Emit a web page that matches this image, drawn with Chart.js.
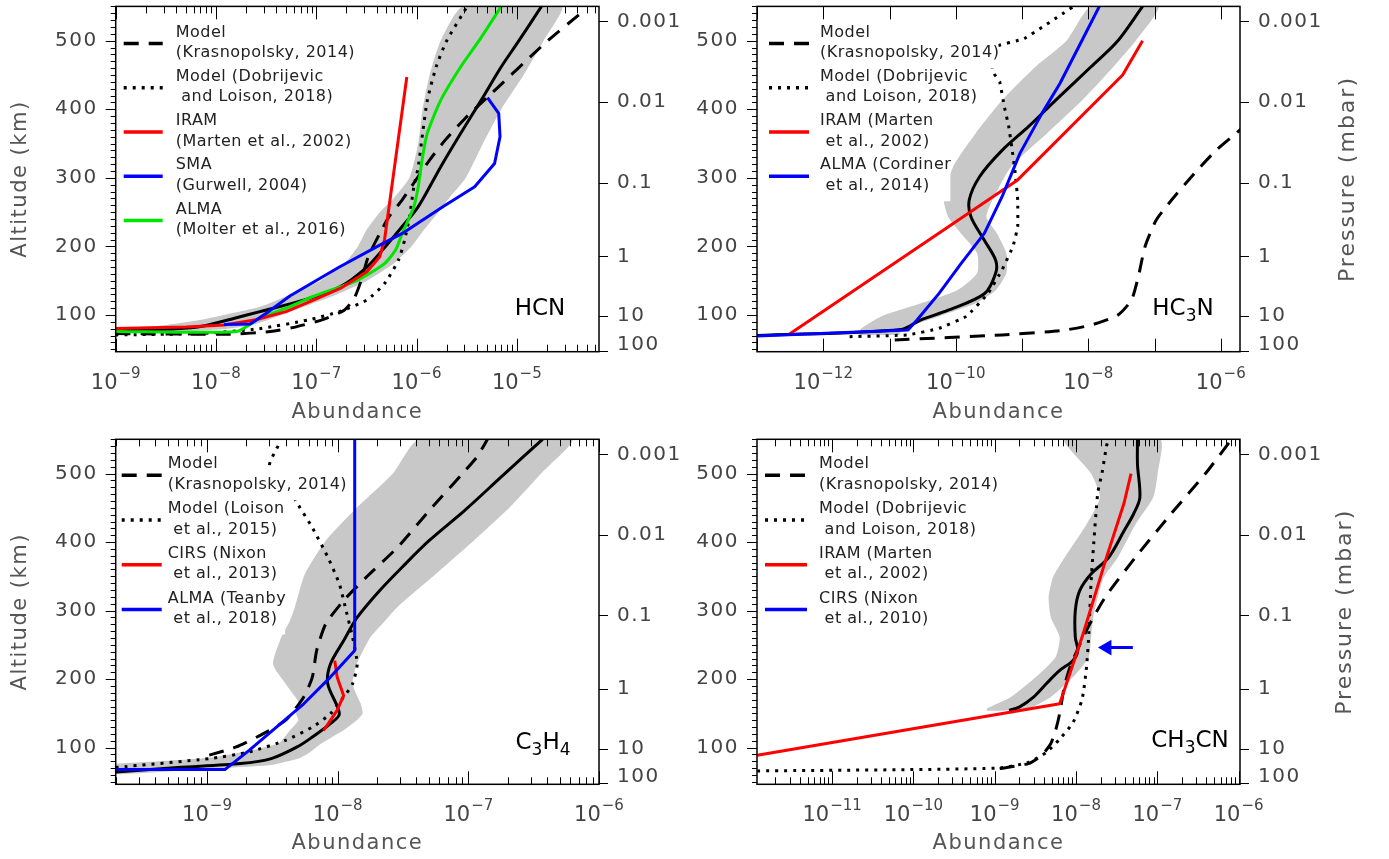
<!DOCTYPE html>
<html>
<head>
<meta charset="utf-8">
<script src="https://cdn.jsdelivr.net/npm/chart.js@4.4.1/dist/chart.umd.min.js"></script>
<style>
body { margin: 0; background: #fff; }
#wrap { position: relative; width: 1389px; height: 859px; }
canvas { position: absolute; }
</style>
</head>
<body>
<div id="wrap">
  <canvas id="hcn" width="694" height="430" style="left:0;top:0"></canvas>
  <canvas id="hc3n" width="695" height="430" style="left:694px;top:0"></canvas>
  <canvas id="c3h4" width="694" height="429" style="left:0;top:430px"></canvas>
  <canvas id="ch3cn" width="695" height="429" style="left:694px;top:430px"></canvas>
</div>
<script>
// shared axis values
const altTicks = [100, 200, 300, 400, 500];
const presTickAlt = [528, 410.5, 293, 185.5, 98.5, 48];
const presLabelAlt = [528, 410.5, 293, 185.5, 98.5, 57];
const presLabels = ['0.001', '0.01', '0.1', '1', '10', '100'];

// ---- HCN (altitude km / abundance) ----
const hcnBandAlt = [76, 80, 85, 92, 100, 112, 130, 150, 175, 200, 225, 250, 270, 300, 350, 400, 450, 500, 550];
const hcnBandLo = [5e-10, 1.5e-9, 3e-9, 6.5e-9, 1.2e-8, 2.75e-8, 5.5e-8, 1.1e-7, 1.9e-7, 2.6e-7, 3.2e-7, 4.3e-7, 5.9e-7, 8.5e-7, 1.04e-6, 1.15e-6, 1.35e-6, 1.74e-6, 2.9e-6];
const hcnBandHi = [5e-9, 1.3e-8, 2.2e-8, 3.2e-8, 4.5e-8, 7.5e-8, 1.6e-7, 3.2e-7, 5.9e-7, 8.9e-7, 1.2e-6, 1.65e-6, 2.1e-6, 3.1e-6, 4.6e-6, 7e-6, 1.17e-5, 1.85e-5, 2.8e-5];
const hcnRetAlt = [78, 80, 84, 95, 105, 122, 141, 170, 200, 229, 258, 316, 365, 413, 462, 500, 550];
const hcnRetVal = [1e-9, 4e-9, 7.5e-9, 1.5e-8, 2.75e-8, 7.6e-8, 1.72e-7, 3.2e-7, 4.9e-7, 7.2e-7, 1.04e-6, 1.74e-6, 2.76e-6, 4.4e-6, 7e-6, 1.05e-5, 1.76e-5];
const hcnKrasAlt = [73, 72, 76, 82, 93, 107, 125, 150, 185, 219, 243, 268, 302, 326, 355, 387, 421, 496, 542];
const hcnKrasVal = [1e-9, 1.4e-8, 3.5e-8, 6e-8, 1.14e-7, 1.9e-7, 2.4e-7, 2.8e-7, 3.3e-7, 4.3e-7, 5.3e-7, 7.2e-7, 1.04e-6, 1.35e-6, 1.93e-6, 3.06e-6, 5.4e-6, 1.9e-5, 4.5e-5];
const hcnDobAlt = [71, 73, 80, 93, 105, 122, 146, 180, 209, 243, 287, 316, 365, 413, 462, 500, 550];
const hcnDobVal = [1e-9, 7e-9, 2.7e-8, 8.4e-8, 1.7e-7, 3.2e-7, 4.8e-7, 6.6e-7, 7.6e-7, 8.5e-7, 9.4e-7, 1.04e-6, 1.15e-6, 1.28e-6, 1.57e-6, 2e-6, 3.2e-6];
const hcnIramAlt = [80.5, 82.5, 85.5, 93, 105, 122, 140, 163, 185, 210, 447];
const hcnIramVal = [1e-9, 5e-9, 1.2e-8, 2.5e-8, 5e-8, 9.5e-8, 1.8e-7, 3.2e-7, 4.3e-7, 4.8e-7, 8e-7];
const hcnSmaAlt = [86, 87, 103, 128, 170, 202, 219, 258, 287, 321, 360, 394, 417];
const hcnSmaVal = [1.2e-8, 2.2e-8, 3.2e-8, 5.5e-8, 1.7e-7, 4.3e-7, 7.2e-7, 1.83e-6, 3.8e-6, 6e-6, 6.8e-6, 6.6e-6, 5.1e-6];
const hcnAlmaAlt = [76, 76, 95, 110, 127, 151, 175, 195, 219, 258, 287, 331, 365, 413, 462, 500, 550];
const hcnAlmaVal = [1e-9, 1.6e-8, 2.7e-8, 5e-8, 9.3e-8, 2.6e-7, 4.8e-7, 6.2e-7, 7.2e-7, 9.4e-7, 1.04e-6, 1.15e-6, 1.28e-6, 1.74e-6, 2.76e-6, 4.2e-6, 7e-6];
const hcnLegend = [['Model', '(Krasnopolsky, 2014)'], ['Model (Dobrijevic', ' and Loison, 2018)'], ['IRAM', '(Marten et al., 2002)'], ['SMA', '(Gurwell, 2004)'], ['ALMA', '(Molter et al., 2016)']];

// ---- HC3N ----
const hc3nBandAlt = [71, 80, 98, 117, 136, 161, 190, 219, 243, 268, 316, 365, 413, 462, 500, 550];
const hc3nBandLo = [3.5e-12, 3.7e-12, 7.5e-12, 3e-11, 1.05e-10, 2.1e-10, 2.1e-10, 1.2e-10, 7.7e-11, 6.6e-11, 9.1e-11, 2e-10, 5e-10, 1.6e-9, 4.7e-9, 1.1e-8];
const hc3nBandHi = [1.4e-11, 1.6e-11, 5.6e-11, 2e-10, 4e-10, 5.8e-10, 5.8e-10, 4.2e-10, 2.9e-10, 3.6e-10, 6.8e-10, 2.4e-9, 8.1e-9, 2.4e-8, 5.2e-8, 1.14e-7];
const hc3nRetAlt = [70, 79, 93, 107, 131, 161, 180, 209, 243, 268, 302, 340, 375, 413, 462, 500, 550];
const hc3nRetVal = [1e-13, 1.5e-11, 3e-11, 7.7e-11, 2.7e-10, 4e-10, 4e-10, 2.7e-10, 1.7e-10, 1.6e-10, 2.3e-10, 5e-10, 1.26e-9, 3.2e-9, 1.1e-8, 2.8e-8, 6.6e-8];
const hc3nKrasAlt = [63.6, 71, 77, 85.4, 100, 122, 156, 200, 238.5, 268, 306.6, 340.6, 365, 380];
const hc3nKrasVal = [1.2e-11, 5e-10, 3.75e-9, 1.1e-8, 2.8e-8, 4.5e-8, 5.7e-8, 7.2e-8, 1.06e-7, 1.82e-7, 4e-7, 8.6e-7, 1.7e-6, 2.6e-6];
const hc3nDobAlt = [68.4, 71, 80.5, 98, 132, 166, 200, 229, 268, 307, 345, 375, 404, 440, 455, 490, 503, 550];
const hc3nDobVal = [2.5e-12, 1.9e-11, 5.6e-11, 1.44e-10, 3.1e-10, 5e-10, 7.3e-10, 8.6e-10, 8.6e-10, 7.9e-10, 7e-10, 6.3e-10, 5.4e-10, 4.6e-10, 3.6e-10, 3.6e-10, 1.08e-9, 6e-9];
const hc3nIramAlt = [72.3, 297, 450, 500];
const hc3nIramVal = [3.1e-13, 8.6e-10, 3.3e-8, 6.6e-8];
const hc3nAlmaAlt = [69.4, 78, 92.7, 131.6, 175, 219, 272.5, 335.7, 394, 438, 501, 550];
const hc3nAlmaVal = [1e-13, 1.9e-11, 2.6e-11, 5.6e-11, 1.2e-10, 2.7e-10, 5e-10, 9.3e-10, 2e-9, 3.75e-9, 8.1e-9, 1.47e-8];
const hc3nLegend = [['Model', '(Krasnopolsky, 2014)'], ['Model (Dobrijevic', ' and Loison, 2018)'], ['IRAM (Marten', ' et al., 2002)'], ['ALMA (Cordiner', ' et al., 2014)']];

// ---- C3H4 ----
const c3h4BandAlt = [61, 72, 75, 84, 91, 106, 125, 140, 150, 164, 193, 222, 261, 285, 305, 353, 402, 450, 500, 550];
const c3h4BandLo = [1e-10, 1e-10, 1.5e-10, 9e-10, 1.6e-9, 3.5e-9, 4.3e-9, 5e-9, 4.8e-9, 5.1e-9, 4e-9, 3.2e-9, 3.7e-9, 4.3e-9, 4.7e-9, 5.6e-9, 8.1e-9, 1.4e-8, 2.65e-8, 4.2e-8];
const c3h4BandHi = [2.2e-10, 1.95e-9, 3.2e-9, 5e-9, 5.9e-9, 7.5e-9, 1.1e-8, 1.4e-8, 1.55e-8, 1.5e-8, 1.3e-8, 1.4e-8, 1.78e-8, 2.3e-8, 2.86e-8, 5.6e-8, 1.1e-7, 2.06e-7, 3.6e-7, 6.2e-7];
const c3h4RetAlt = [64.6, 71, 76.7, 84, 102, 115.5, 135, 149.5, 193, 222, 256, 290, 329, 363, 402, 445.6, 494, 550];
const c3h4RetVal = [2e-10, 6e-10, 1.8e-9, 3.1e-9, 5e-9, 6.4e-9, 8.8e-9, 1.03e-8, 8.4e-9, 8.8e-9, 1.11e-8, 1.41e-8, 2.09e-8, 3.1e-8, 5e-8, 9.3e-8, 1.76e-7, 3.7e-7];
const c3h4KrasAlt = [89, 101, 120.4, 140, 174, 203, 241.7, 280.6, 314.6, 348.5, 392, 445.6, 523, 550];
const c3h4KrasVal = [1.04e-9, 1.67e-9, 2.7e-9, 4e-9, 5.5e-9, 6.4e-9, 6.9e-9, 8.1e-9, 1.11e-8, 1.65e-8, 2.86e-8, 5e-8, 1.15e-7, 1.4e-7];
const c3h4LoisAlt = [71, 84, 93.7, 110.7, 130, 149.5, 174, 193, 222, 261, 300, 339, 378, 421, 454, 485, 511, 545];
const c3h4LoisVal = [2e-10, 1.04e-9, 2.1e-9, 4e-9, 6.4e-9, 8.8e-9, 1.11e-8, 1.3e-8, 1.41e-8, 1.3e-8, 1.16e-8, 1.03e-8, 8.4e-9, 6.4e-9, 5e-9, 4e-9, 3e-9, 3.6e-9];
const c3h4CirsAlt = [227, 203, 176, 154.4, 125];
const c3h4CirsVal = [9.5e-9, 9.9e-9, 1.11e-8, 9.9e-9, 7.8e-9];
const c3h4AlmaAlt = [68, 68, 96, 130, 164, 203, 241.7, 550];
const c3h4AlmaVal = [2e-10, 1.37e-9, 2.1e-9, 3.4e-9, 5.5e-9, 8.8e-9, 1.35e-8, 1.35e-8];
const c3h4Legend = [['Model', '(Krasnopolsky, 2014)'], ['Model (Loison', ' et al., 2015)'], ['CIRS (Nixon', ' et al., 2013)'], ['ALMA (Teanby', ' et al., 2018)']];

// ---- CH3CN ----
const ch3cnBandAlt = [154, 157, 174, 203, 232, 261, 290, 319.4, 348.5, 377, 426, 465, 500, 550];
const ch3cnBandLo = [8e-10, 8e-10, 1.58e-9, 3.2e-9, 5.6e-9, 6.3e-9, 4.9e-9, 4.6e-9, 5.2e-9, 7.2e-9, 1.35e-8, 1.96e-8, 1.53e-8, 7.2e-9];
const ch3cnBandHi = [1.3e-9, 2.6e-9, 4.9e-9, 9.2e-9, 1.43e-8, 1.53e-8, 1.63e-8, 1.85e-8, 2.2e-8, 3.25e-8, 5.4e-8, 8.9e-8, 1.01e-7, 1.08e-7];
const ch3cnRetAlt = [154.4, 159.2, 173.8, 193.2, 212.6, 227.2, 241.7, 261, 300, 329.1, 353.4, 377.7, 416.5, 441, 465, 513.6, 550];
const ch3cnRetVal = [1.5e-9, 2e-9, 3e-9, 4.3e-9, 6.3e-9, 9.2e-9, 1.05e-8, 9.8e-9, 9.8e-9, 1.11e-8, 1.53e-8, 2.53e-8, 3.9e-8, 5.1e-8, 6.1e-8, 5.7e-8, 5.7e-8];
const ch3cnKrasAlt = [69.4, 76.7, 89, 106, 125, 150, 190, 222, 278, 320, 378, 441, 501.5, 548.5];
const ch3cnKrasVal = [1.15e-9, 2.6e-9, 3.8e-9, 4.9e-9, 5.6e-9, 6.3e-9, 7.2e-9, 8.7e-9, 1.44e-8, 2.3e-8, 5.4e-8, 1.47e-7, 4e-7, 8e-7];
const ch3cnDobAlt = [66, 70, 78.6, 93, 112.6, 136.9, 171, 219.4, 268, 340.8, 389, 471.8, 501, 540, 550];
const ch3cnDobVal = [1.2e-12, 1.08e-9, 2.6e-9, 4.3e-9, 6.3e-9, 9.2e-9, 1.19e-8, 1.35e-8, 1.44e-8, 1.53e-8, 1.63e-8, 1.85e-8, 2.09e-8, 2.37e-8, 2.5e-8];
const ch3cnIramAlt = [88.8, 164, 261.7, 377.7, 457, 500];
const ch3cnIramVal = [1.2e-12, 6.3e-9, 1.19e-8, 2.37e-8, 3.9e-8, 4.75e-8];
const ch3cnCirsAlt = [246, 246];
const ch3cnCirsVal = [5e-8, 2.4e-8];
const ch3cnLegend = [['Model', '(Krasnopolsky, 2014)'], ['Model (Dobrijevic', ' and Loison, 2018)'], ['IRAM (Marten', ' et al., 2002)'], ['CIRS (Nixon', ' et al., 2010)']];

const FONT = '"DejaVu Sans", sans-serif';
Chart.defaults.font.family = FONT;
Chart.defaults.color = '#444';

const lineStyles = {
    ret: { borderColor: '#000', borderWidth: 3, tension: 0.3 },
    kras: { borderColor: '#000', borderWidth: 3, borderDash: [15, 10], tension: 0.2 },
    dob: { borderColor: '#000', borderWidth: 3, borderDash: [3, 6], tension: 0.2 },
    red: { borderColor: '#ff0000', borderWidth: 3, tension: 0 },
    blue: { borderColor: '#0000ff', borderWidth: 3, tension: 0 },
    green: { borderColor: '#00e600', borderWidth: 3, tension: 0.2 }
};

function pts(vals, alts) {
    return vals.map((v, i) => ({ x: v, y: alts[i] }));
}

function series(vals, alts, key, extra) {
    return Object.assign({ data: pts(vals, alts) }, lineStyles[key], extra || {});
}

// grey uncertainty envelope as one closed shape
function band(alts, lo, hi) {
    const left = pts(lo, alts);
    const right = pts(hi, alts).reverse();
    return {
        data: left.concat(right), fill: 'shape', backgroundColor: '#c8c8c8',
        borderColor: 'rgba(0,0,0,0)', borderWidth: 0, tension: 0.2, order: 10
    };
}

function drawFormula(ctx, s, cx, cy) {
    const parts = [...s].map(ch => ({ ch, sub: /\d/.test(ch) }));
    let w = 0;
    parts.forEach(p => {
        ctx.font = (p.sub ? '17px ' : '23px ') + FONT;
        p.w = ctx.measureText(p.ch).width;
        w += p.w;
    });
    let xx = cx - w / 2;
    ctx.textAlign = 'left';
    ctx.textBaseline = 'alphabetic';
    ctx.fillStyle = '#000';
    parts.forEach(p => {
        ctx.font = (p.sub ? '17px ' : '23px ') + FONT;
        ctx.fillText(p.ch, xx, cy + 8.5 + (p.sub ? 6 : 0));
        xx += p.w;
    });
}

const panelDeco = {
    id: 'panelDeco',
    beforeDraw(chart) {
        // the original lettering is wide, spread the axis text a little
        chart.ctx.letterSpacing = '1.5px';
    },
    afterDatasetsDraw(chart, args, o) {
        const { ctx, chartArea: a } = chart;
        ctx.save();
        ctx.letterSpacing = '0.5px';
        ctx.font = '16px ' + FONT;
        ctx.textBaseline = 'middle';
        ctx.textAlign = 'left';
        o.legend.forEach((txt, k) => {
            const t = a.top + o.legTop + k * o.legStep;
            const w = Math.max(...txt.map(s => ctx.measureText(s).width));
            // each entry blanks out what lies behind its text
            ctx.fillStyle = '#fff';
            ctx.fillRect(a.left + 2, t + 2, o.legText + w - 3, 34);
            const s = lineStyles[o.legStyle[k]];
            ctx.beginPath();
            ctx.setLineDash(s.borderDash || []);
            ctx.lineWidth = s.borderWidth + 0.5;
            ctx.strokeStyle = s.borderColor;
            ctx.moveTo(a.left + o.legLine[0], t + 11);
            ctx.lineTo(a.left + o.legLine[1], t + 11);
            ctx.stroke();
            ctx.setLineDash([]);
            ctx.fillStyle = '#222';
            ctx.fillText(txt[0], a.left + o.legText, t);
            ctx.fillText(txt[1], a.left + o.legText, t + 20.5);
        });
        ctx.restore();
    },
    afterDraw(chart, args, o) {
        const { ctx, chartArea: a, scales } = chart;
        const x = scales.x, y = scales.y, y2 = scales.y2;
        ctx.save();
        ctx.letterSpacing = '0px';
        ctx.strokeStyle = '#000';
        ctx.lineWidth = 1;
        ctx.beginPath();
        // log ticks on top and bottom, pointing inward
        const d0 = Math.floor(Math.log10(x.min)), d1 = Math.ceil(Math.log10(x.max));
        for (let d = d0; d <= d1; d++) {
            for (let k = 1; k < 10; k++) {
                if (k > 1 && !o.minor) continue;
                const v = k * Math.pow(10, d);
                if (v < x.min * 0.999 || v > x.max * 1.001) continue;
                const px = Math.round(x.getPixelForValue(v)) + 0.5;
                const len = k === 1 ? 13 : 7;
                ctx.moveTo(px, a.bottom); ctx.lineTo(px, a.bottom - len);
                ctx.moveTo(px, a.top); ctx.lineTo(px, a.top + len);
            }
        }
        // altitude ticks on the left, pointing outward
        for (let v = Math.ceil(y.min / 10) * 10; v <= y.max; v += 10) {
            const py = Math.round(y.getPixelForValue(v)) + 0.5;
            const len = v % 100 === 0 ? 10 : 5;
            ctx.moveTo(a.left - len, py); ctx.lineTo(a.left, py);
        }
        // pressure ticks on the right
        presTickAlt.forEach(v => {
            const py = Math.round(y2.getPixelForValue(v)) + 0.5;
            ctx.moveTo(a.right, py); ctx.lineTo(a.right + 9, py);
        });
        ctx.stroke();
        ctx.lineWidth = 1.5;
        ctx.strokeRect(a.left, a.top, a.right - a.left, a.bottom - a.top);

        // 10^n labels
        ctx.fillStyle = '#444';
        ctx.textBaseline = 'alphabetic';
        ctx.textAlign = 'left';
        x.ticks.forEach(t => {
            const e = Math.round(Math.log10(t.value));
            const px = x.getPixelForValue(t.value);
            const sup = (e < 0 ? '\u2212' : '') + Math.abs(e);
            ctx.font = '21px ' + FONT;
            const w1 = ctx.measureText('10').width;
            ctx.font = '15px ' + FONT;
            const w2 = ctx.measureText(sup).width;
            const x0 = px - (w1 + w2 + 1) / 2;
            ctx.font = '21px ' + FONT;
            ctx.fillText('10', x0, a.bottom + 37);
            ctx.font = '15px ' + FONT;
            ctx.fillText(sup, x0 + w1 + 1, a.bottom + 26);
        });

        drawFormula(ctx, o.name, a.right - o.nameDx, a.bottom - o.nameDy);

        if (o.pressX) {
            ctx.letterSpacing = '2px';
            ctx.translate(o.pressX, (a.top + a.bottom) / 2);
            ctx.rotate(-Math.PI / 2);
            ctx.font = '22px ' + FONT;
            ctx.fillStyle = '#555';
            ctx.textAlign = 'center';
            ctx.textBaseline = 'middle';
            ctx.fillText('Pressure (mbar)', 0, 0);
        }
        ctx.restore();
        ctx.letterSpacing = '0px';
    }
};

function panel(id, o) {
    const cv = document.getElementById(id);
    const W = cv.width, H = cv.height;
    return new Chart(cv, {
        type: 'line',
        data: { datasets: o.datasets },
        options: {
            responsive: false,
            animation: false,
            events: [],
            layout: { padding: { top: o.area.top, left: 0, right: 0, bottom: 0 } },
            elements: { point: { radius: 0 }, line: { borderCapStyle: 'butt', borderJoinStyle: 'round' } },
            datasets: { line: { clip: 0, fill: false } },
            scales: {
                x: {
                    type: 'logarithmic', min: o.xMin, max: o.xMax,
                    grid: { display: false, drawTicks: false }, border: { display: false },
                    ticks: { display: false },
                    afterBuildTicks: s => { s.ticks = o.xLabels.map(e => ({ value: Math.pow(10, e) })); },
                    afterFit: s => { s.height = H - o.area.bottom; s.paddingLeft = 0; s.paddingRight = 0; },
                    title: { display: true, text: 'Abundance', font: { size: 21 }, color: '#555', padding: { top: 0, bottom: o.titlePad } }
                },
                y: {
                    type: 'linear', position: 'left', min: 46.5, max: 550,
                    grid: { display: false, drawTicks: false }, border: { display: false },
                    afterBuildTicks: s => { s.ticks = altTicks.map(v => ({ value: v })); },
                    ticks: { font: { size: 20 }, color: '#444', padding: 18, autoSkip: false },
                    title: { display: o.altTitle, text: 'Altitude (km)', font: { size: 21 }, color: '#555', padding: { top: 8, bottom: 0 } },
                    afterFit: s => { s.width = o.area.left; s.paddingTop = 0; s.paddingBottom = 0; }
                },
                y2: {
                    type: 'linear', position: 'right', min: 46.5, max: 550,
                    grid: { display: false, drawTicks: false }, border: { display: false },
                    afterBuildTicks: s => { s.ticks = presLabelAlt.map(v => ({ value: v })); },
                    ticks: { font: { size: 20 }, color: '#444', padding: 18, autoSkip: false, callback: (v, i) => presLabels[i] },
                    afterFit: s => { s.width = W - o.area.right; s.paddingTop = 0; s.paddingBottom = 0; }
                }
            },
            plugins: {
                legend: { display: false },
                tooltip: { enabled: false },
                panelDeco: o.deco
            }
        },
        plugins: [panelDeco]
    });
}

panel('hcn', {
    area: { left: 115.7, right: 599, top: 6.4, bottom: 351.7 },
    xMin: 1e-9, xMax: 6.6e-5, xLabels: [-9, -8, -7, -6, -5], altTitle: true, titlePad: 5,
    datasets: [
        series(hcnSmaVal, hcnSmaAlt, 'blue'),
        series(hcnIramVal, hcnIramAlt, 'red'),
        series(hcnAlmaVal, hcnAlmaAlt, 'green'),
        series(hcnRetVal, hcnRetAlt, 'ret'),
        series(hcnKrasVal, hcnKrasAlt, 'kras'),
        series(hcnDobVal, hcnDobAlt, 'dob'),
        band(hcnBandAlt, hcnBandLo, hcnBandHi)
    ],
    deco: {
        legend: hcnLegend, legStyle: ['kras', 'dob', 'red', 'blue', 'green'],
        legTop: 26, legStep: 44.3, legLine: [8, 47], legText: 60, minor: true,
        name: 'HCN', nameDx: 59, nameDy: 45
    }
});

panel('hc3n', {
    area: { left: 63, right: 546, top: 6.4, bottom: 351.7 },
    xMin: 1e-13, xMax: 1.95e-6, xLabels: [-12, -10, -8, -6], altTitle: false, titlePad: 5,
    datasets: [
        series(hc3nAlmaVal, hc3nAlmaAlt, 'blue'),
        series(hc3nIramVal, hc3nIramAlt, 'red'),
        series(hc3nRetVal, hc3nRetAlt, 'ret'),
        series(hc3nKrasVal, hc3nKrasAlt, 'kras'),
        series(hc3nDobVal, hc3nDobAlt, 'dob', { tension: 0.1 }),
        band(hc3nBandAlt, hc3nBandLo, hc3nBandHi)
    ],
    deco: {
        legend: hc3nLegend, legStyle: ['kras', 'dob', 'red', 'blue'],
        legTop: 26, legStep: 44.3, legLine: [12, 52], legText: 63, minor: false,
        name: 'HC3N', nameDx: 57, nameDy: 45, pressX: 654
    }
});

panel('c3h4', {
    area: { left: 115.7, right: 599, top: 9.3, bottom: 354.3 },
    xMin: 2e-10, xMax: 1e-6, xLabels: [-9, -8, -7, -6], altTitle: true, titlePad: 3,
    datasets: [
        series(c3h4AlmaVal, c3h4AlmaAlt, 'blue'),
        series(c3h4CirsVal, c3h4CirsAlt, 'red'),
        series(c3h4RetVal, c3h4RetAlt, 'ret'),
        series(c3h4KrasVal, c3h4KrasAlt, 'kras'),
        series(c3h4LoisVal, c3h4LoisAlt, 'dob'),
        band(c3h4BandAlt, c3h4BandLo, c3h4BandHi)
    ],
    deco: {
        legend: c3h4Legend, legStyle: ['kras', 'dob', 'red', 'blue'],
        legTop: 25, legStep: 44.7, legLine: [6, 46], legText: 52, minor: true,
        name: 'C3H4', nameDx: 56, nameDy: 44
    }
});

panel('ch3cn', {
    area: { left: 63, right: 546, top: 9.3, bottom: 354.3 },
    xMin: 1.19e-12, xMax: 1.04e-6, xLabels: [-11, -10, -9, -8, -7, -6], altTitle: false, titlePad: 3,
    datasets: [
        series(ch3cnCirsVal, ch3cnCirsAlt, 'blue', {
            pointRadius: [0, 6], pointStyle: 'triangle', rotation: -90,
            pointBackgroundColor: '#0000ff', pointBorderColor: '#0000ff'
        }),
        series(ch3cnIramVal, ch3cnIramAlt, 'red'),
        series(ch3cnRetVal, ch3cnRetAlt, 'ret'),
        series(ch3cnKrasVal, ch3cnKrasAlt, 'kras'),
        series(ch3cnDobVal, ch3cnDobAlt, 'dob'),
        band(ch3cnBandAlt, ch3cnBandLo, ch3cnBandHi)
    ],
    deco: {
        legend: ch3cnLegend, legStyle: ['kras', 'dob', 'red', 'blue'],
        legTop: 25, legStep: 44.7, legLine: [8, 50], legText: 62, minor: true,
        name: 'CH3CN', nameDx: 50, nameDy: 46, pressX: 651
    }
});
</script>
</body>
</html>
